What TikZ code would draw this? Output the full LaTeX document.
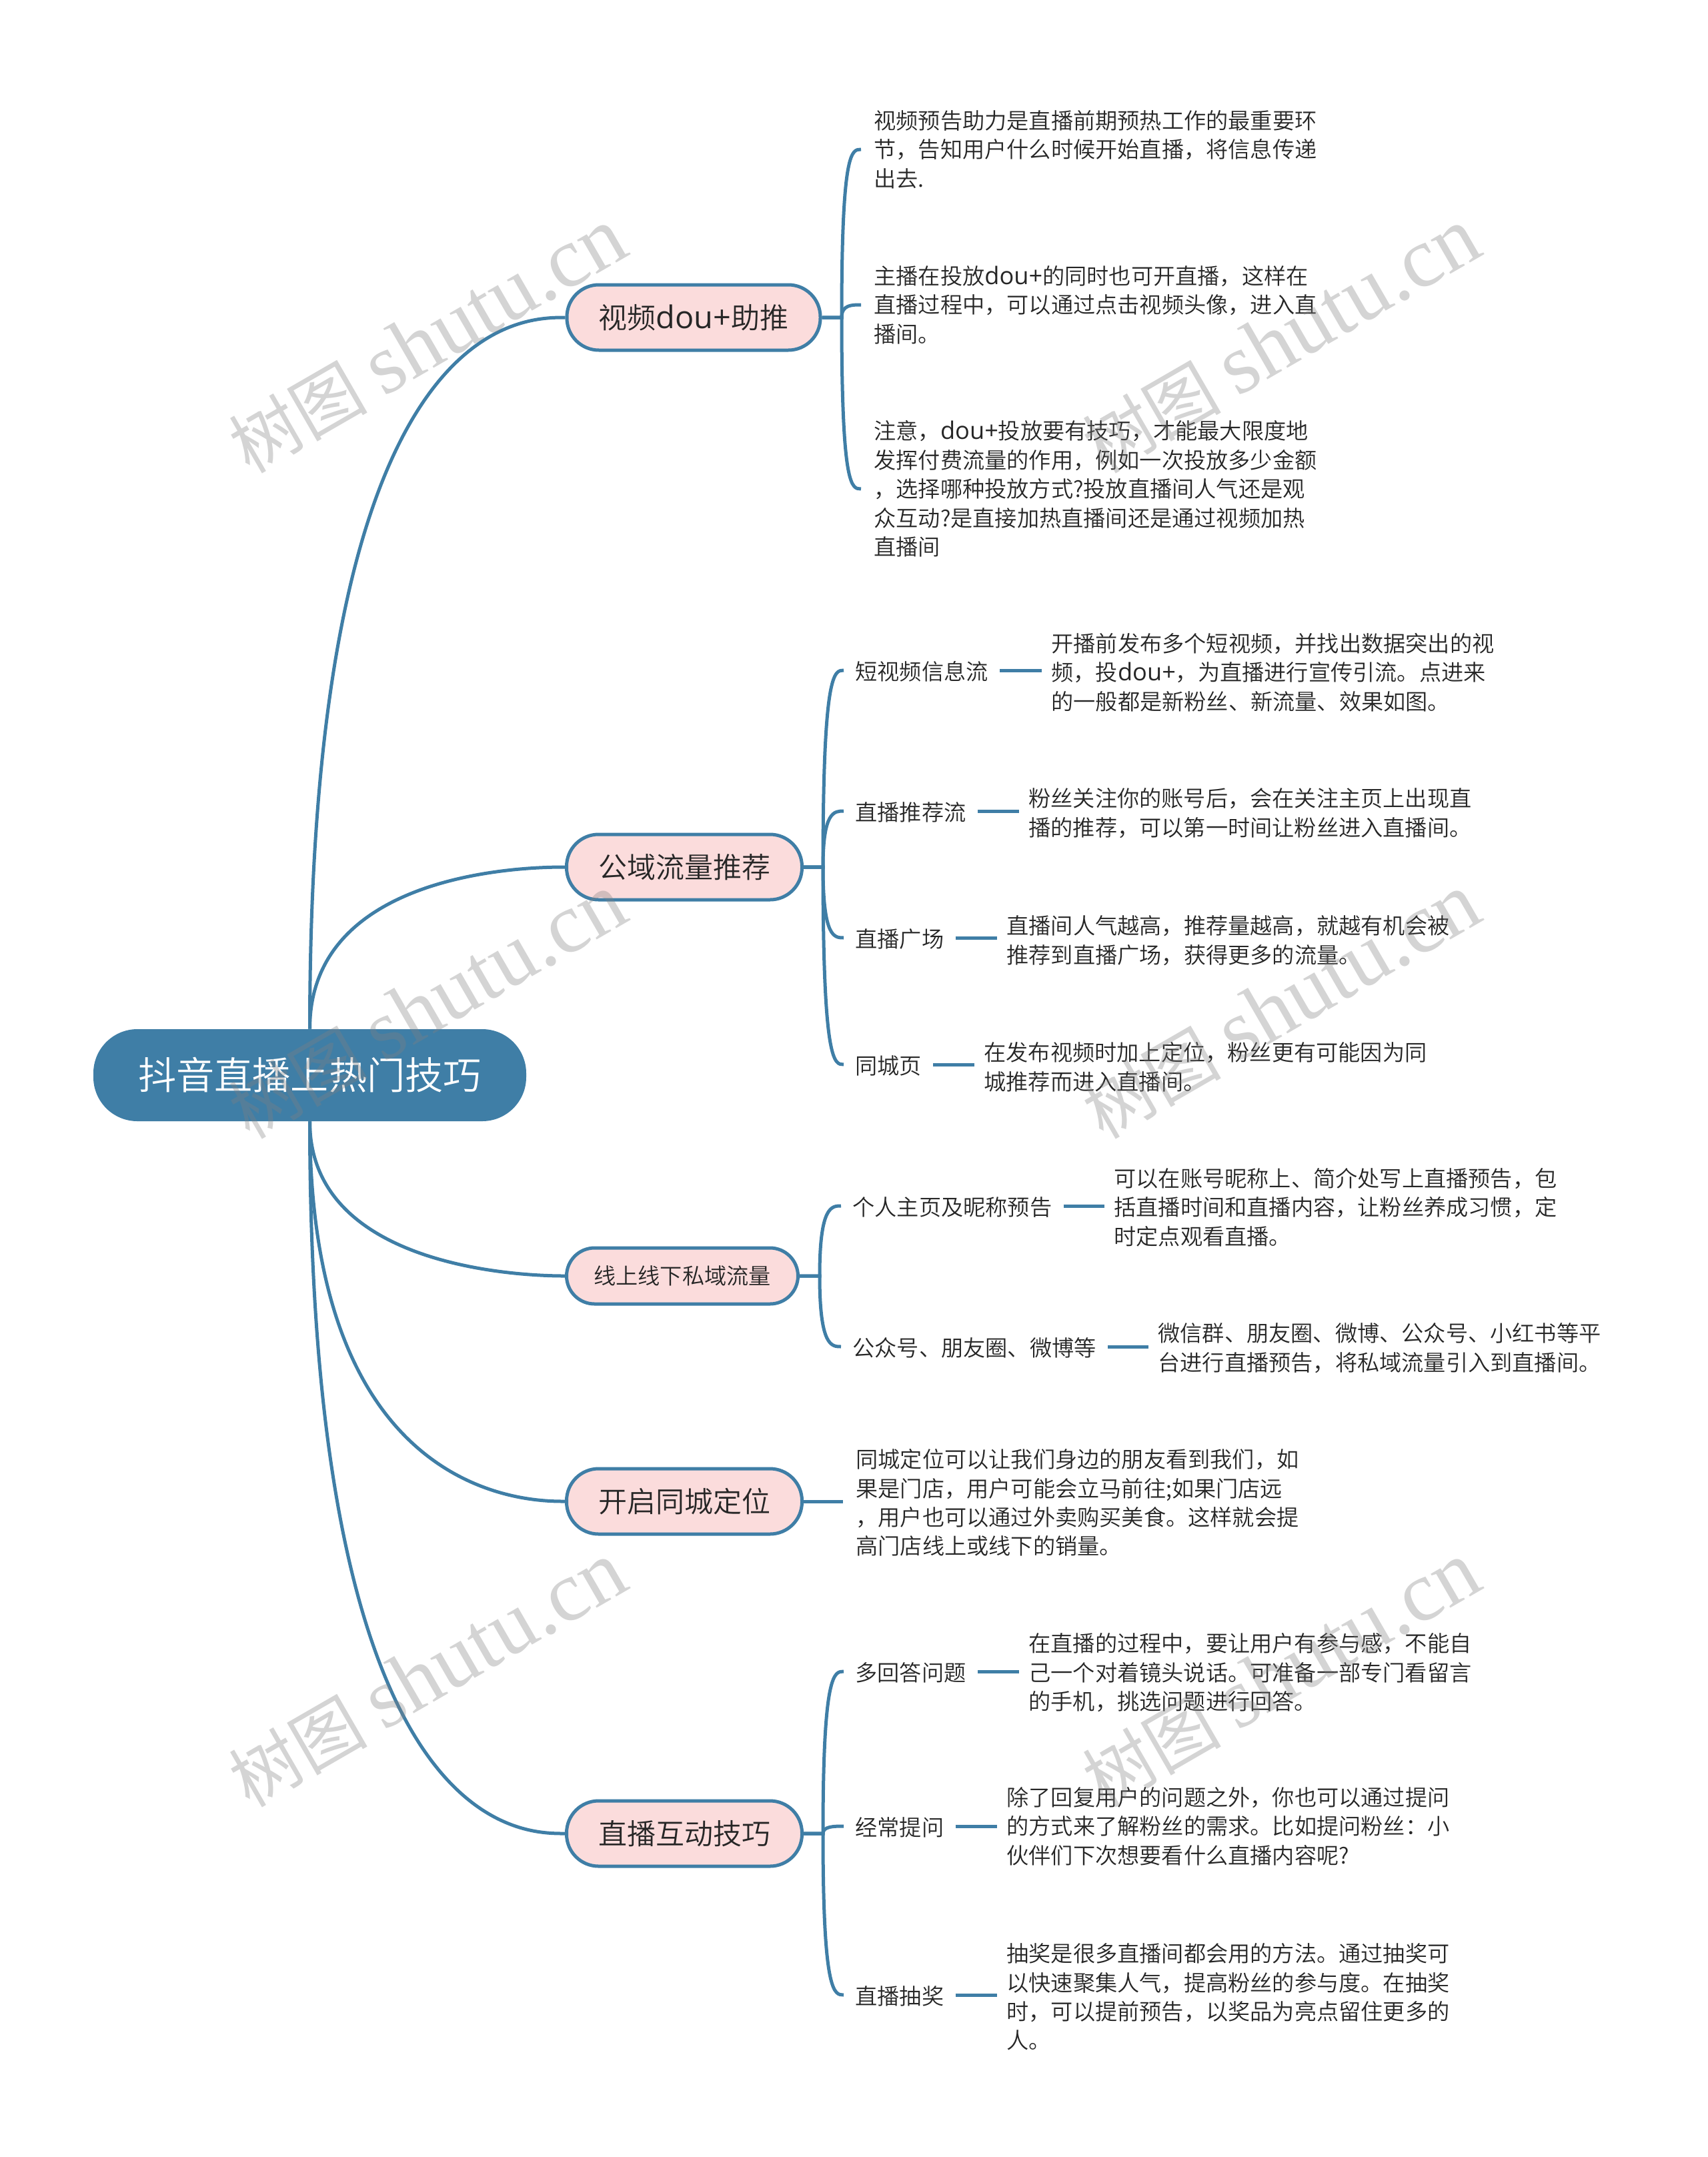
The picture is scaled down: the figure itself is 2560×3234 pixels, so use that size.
\documentclass[tikz,border=0pt]{standalone}
\usepackage{fontspec}
\setmainfont{Noto Sans CJK SC DemiLight}
\newfontfamily\wmcjk{Noto Sans CJK SC}
\newfontfamily\wmlat{Liberation Serif}
\newfontfamily\latf[Scale=1.09]{Open Sans}
\newcommand{\dou}{{\latf dou+}}
\usetikzlibrary{calc}
\definecolor{mainblue}{HTML}{3F7EA6}
\definecolor{pinkfill}{HTML}{FBDCDC}
\definecolor{inkdark}{HTML}{262626}
\definecolor{wmgray}{HTML}{808080}
\newcommand{\leaffont}{\fontsize{16.6pt}{21.7pt}\selectfont}
\newcommand{\wm}[2]{\node[watermark] (#1) at #2 {\wmcjk 树图 {\wmlat\fontsize{64pt}{66pt}\selectfont shutu.cn}};}
\tikzset{
  x=0.5pt,y=-0.5pt,
  conn/.style={draw=mainblue,line width=2.5pt},
  rootbox/.style={rectangle,rounded corners=33pt,fill=mainblue,text=white,inner sep=0pt,
    minimum width=324.5pt,minimum height=69pt,font=\fontsize{28.6pt}{34pt}\selectfont},
  topic/.style={rectangle,rounded corners=24pt,draw=mainblue,line width=2.5pt,fill=pinkfill,text=inkdark,
    inner sep=0pt,minimum height=49pt,font=\fontsize{21.5pt}{26pt}\selectfont},
  topicsmall/.style={topic,rounded corners=21pt,minimum height=42pt,font=\fontsize{16.6pt}{21pt}\selectfont},
  txt/.style={anchor=west,align=left,inner ysep=0pt,inner xsep=7pt,text=inkdark,font=\leaffont},
  sublabel/.style={txt,inner xsep=8.5pt,text height=16.6pt,text depth=2pt},
  directleaf/.style={txt,inner xsep=9.5pt},
  watermark/.style={rotate=30,text=wmgray,opacity=0.34,font=\fontsize{52pt}{64pt}\selectfont},
}
\begin{document}
\begin{tikzpicture}
\useasboundingbox (0,0) rectangle (2560,3234);
% root and topics
\node[rootbox] (root) at (464.5,1612) {抖音直播上热门技巧};
\node[topic,minimum width=190pt] (n1) at (1040,476) {视频\dou 助推};
\node[topic,minimum width=176.5pt] (n2) at (1026,1300) {公域流量推荐};
\node[topicsmall,minimum width=173.5pt] (n3) at (1023,1913) {线上线下私域流量};
\node[topic,minimum width=176.5pt] (n4) at (1026,2251) {开启同城定位};
\node[topic,minimum width=176.5pt] (n5) at (1026,2749) {直播互动技巧};
% branch 1 leaves
\node[directleaf] (a1) at (1291,224) {视频预告助力是直播前期预热工作的最重要环\\节，告知用户什么时候开始直播，将信息传递\\出去.};
\node[directleaf] (a2) at (1291,457) {主播在投放\dou 的同时也可开直播，这样在\\直播过程中，可以通过点击视频头像，进入直\\播间。};
\node[directleaf] (a3) at (1291,733) {注意，\dou 投放要有技巧，才能最大限度地\\发挥付费流量的作用，例如一次投放多少金额\\，选择哪种投放方式?投放直播间人气还是观\\众互动?是直接加热直播间还是通过视频加热\\直播间};
% branch 2
\node[sublabel] (b1) at (1265,1005) {短视频信息流};
\node[sublabel] (b2) at (1265,1216) {直播推荐流};
\node[sublabel] (b3) at (1265,1406) {直播广场};
\node[sublabel] (b4) at (1265,1596) {同城页};
\node[txt] (b1t) at (1562,1008) {开播前发布多个短视频，并找出数据突出的视\\频，投\dou ，为直播进行宣传引流。点进来\\的一般都是新粉丝、新流量、效果如图。};
\node[txt] (b2t) at (1528,1219) {粉丝关注你的账号后，会在关注主页上出现直\\播的推荐，可以第一时间让粉丝进入直播间。};
\node[txt] (b3t) at (1495,1410) {直播间人气越高，推荐量越高，就越有机会被\\推荐到直播广场，获得更多的流量。};
\node[txt] (b4t) at (1461,1600) {在发布视频时加上定位，粉丝更有可能因为同\\城推荐而进入直播间。};
% branch 3
\node[sublabel] (c1) at (1261,1808) {个人主页及昵称预告};
\node[sublabel] (c2) at (1261,2019) {公众号、朋友圈、微博等};
\node[txt] (c1t) at (1656,1810) {可以在账号昵称上、简介处写上直播预告，包\\括直播时间和直播内容，让粉丝养成习惯，定\\时定点观看直播。};
\node[txt] (c2t) at (1722,2021) {微信群、朋友圈、微博、公众号、小红书等平\\台进行直播预告，将私域流量引入到直播间。};
% branch 4
\node[directleaf] (d1) at (1264,2253) {同城定位可以让我们身边的朋友看到我们，如\\果是门店，用户可能会立马前往;如果门店远\\，用户也可以通过外卖购买美食。这样就会提\\高门店线上或线下的销量。};
% branch 5
\node[sublabel] (e1) at (1265,2506) {多回答问题};
\node[sublabel] (e2) at (1265,2738) {经常提问};
\node[sublabel] (e3) at (1265,2991) {直播抽奖};
\node[txt] (e1t) at (1528,2508) {在直播的过程中，要让用户有参与感，不能自\\己一个对着镜头说话。可准备一部专门看留言\\的手机，挑选问题进行回答。};
\node[txt] (e2t) at (1495,2738) {除了回复用户的问题之外，你也可以通过提问\\的方式来了解粉丝的需求。比如提问粉丝：小\\伙伴们下次想要看什么直播内容呢?};
\node[txt] (e3t) at (1495,2994) {抽奖是很多直播间都会用的方法。通过抽奖可\\以快速聚集人气，提高粉丝的参与度。在抽奖\\时，可以提前预告，以奖品为亮点留住更多的\\人。};
% trunks
\coordinate (t1) at (1262,476);
\coordinate (t2) at (1234,1300);
\coordinate (t3) at (1229,1913);
\coordinate (t5) at (1234,2749);
% root to topics
\draw[conn] (root.north) .. controls (root.north |- n1.west) and ($(n1.west)+(-69,0)$) .. (n1.west);
\draw[conn] (root.north) .. controls (root.north |- n2.west) and ($(n2.west)+(-38,0)$) .. (n2.west);
\draw[conn] (root.south) .. controls (root.south |- n3.west) and ($(n3.west)+(-28,0)$) .. (n3.west);
\draw[conn] (root.south) .. controls (root.south |- n4.west) and ($(n4.west)+(-50,0)$) .. (n4.west);
\draw[conn] (root.south) .. controls (root.south |- n5.west) and ($(n5.west)+(-69,0)$) .. (n5.west);
% topic to children
\foreach \c in {a1,a2,a3}{
  \draw[conn] (n1.east) -- (t1) .. controls (t1 |- \c.west) and ($(\c.west)+(-14,0)$) .. (\c.west);
}
\foreach \c in {b1,b2,b3,b4}{
  \draw[conn] (n2.east) -- (t2) .. controls (t2 |- \c.west) and ($(\c.west)+(-14,0)$) .. (\c.west);
}
\foreach \c in {c1,c2}{
  \draw[conn] (n3.east) -- (t3) .. controls (t3 |- \c.west) and ($(\c.west)+(-14,0)$) .. (\c.west);
}
\draw[conn] (n4.east) -- (n4.east -| d1.west);
\foreach \c in {e1,e2,e3}{
  \draw[conn] (n5.east) -- (t5) .. controls (t5 |- \c.west) and ($(\c.west)+(-14,0)$) .. (\c.west);
}
% label to detail
\draw[conn] (b1.east) -- (b1.east -| b1t.west);
\draw[conn] (b2.east) -- (b2.east -| b2t.west);
\draw[conn] (b3.east) -- (b3.east -| b3t.west);
\draw[conn] (b4.east) -- (b4.east -| b4t.west);
\draw[conn] (c1.east) -- (c1.east -| c1t.west);
\draw[conn] (c2.east) -- (c2.east -| c2t.west);
\draw[conn] (e1.east) -- (e1.east -| e1t.west);
\draw[conn] (e2.east) -- (e2.east -| e2t.west);
\draw[conn] (e3.east) -- (e3.east -| e3t.west);
% watermarks
\wm{w1}{(641,511)}
\wm{w2}{(1921,511)}
\wm{w3}{(641,1509)}
\wm{w4}{(1921,1509)}
\wm{w5}{(641,2511)}
\wm{w6}{(1921,2511)}
\end{tikzpicture}
\end{document}
